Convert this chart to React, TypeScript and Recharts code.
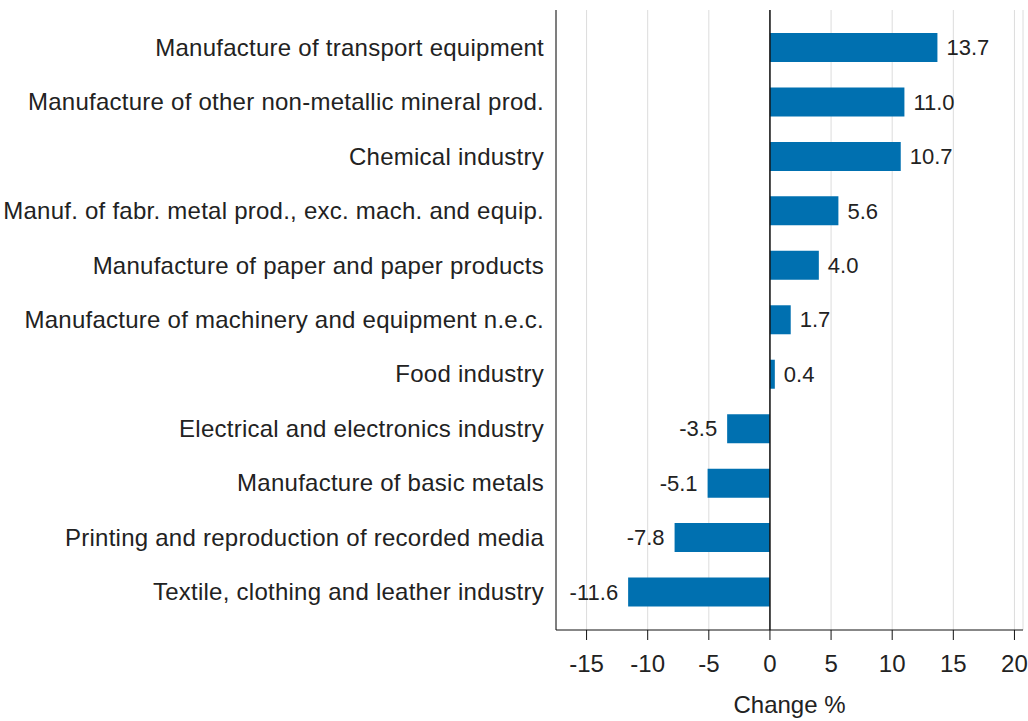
import React from 'react';
import { BarChart, Bar, XAxis, YAxis, CartesianGrid, ReferenceLine, LabelList, Label } from 'recharts';

const industries = [
  'Manufacture of transport equipment',
  'Manufacture of other non-metallic mineral prod.',
  'Chemical industry',
  'Manuf. of fabr. metal prod., exc. mach. and equip.',
  'Manufacture of paper and paper products',
  'Manufacture of machinery and equipment n.e.c.',
  'Food industry',
  'Electrical and electronics industry',
  'Manufacture of basic metals',
  'Printing and reproduction of recorded media',
  'Textile, clothing and leather industry',
];

const changes = [13.7, 11.0, 10.7, 5.6, 4.0, 1.7, 0.4, -3.5, -5.1, -7.8, -11.6];

const xTicks = [-15, -10, -5, 0, 5, 10, 15, 20];

const data = industries.map((name, i) => ({ name, value: changes[i] }));

const FONT = '"Liberation Sans", Arial, sans-serif';
const TEXT = '#222';

// value label beside the end of each bar
const ValueLabel = (props: any) => {
  const { x, y, width, height, value } = props;
  const left = Math.min(x, x + width);
  const right = Math.max(x, x + width);
  const neg = value < 0;
  return (
    <text
      x={neg ? left - 10 : right + 9}
      y={y + height / 2}
      dy="0.35em"
      textAnchor={neg ? 'end' : 'start'}
      fontSize={22}
      fontFamily={FONT}
      fill={TEXT}
    >
      {Number(value).toFixed(1)}
    </text>
  );
};

export default function App() {
  return (
    <div style={{ position: 'absolute', left: 0, top: 0, background: '#fff' }}>
      <BarChart
        width={1028}
        height={721}
        data={data}
        layout="vertical"
        margin={{ top: 10, right: 5, left: 0, bottom: 0 }}
      >
        <CartesianGrid horizontal={false} vertical={true} stroke="#dcdcdc" />
        <XAxis
          type="number"
          domain={[-17.5, 20.7]}
          ticks={xTicks}
          allowDataOverflow
          height={91}
          tickSize={10}
          tickMargin={15}
          axisLine={{ stroke: '#111' }}
          tickLine={{ stroke: '#111' }}
          tick={{ fill: TEXT, fontSize: 24, fontFamily: FONT }}
        >
          <Label
            value="Change %"
            position="insideBottom"
            offset={8}
            style={{ fill: TEXT, fontSize: 24, fontFamily: FONT }}
          />
        </XAxis>
        <YAxis
          type="category"
          dataKey="name"
          width={556}
          padding={{ top: 10, bottom: 11 }}
          tickLine={false}
          tickSize={0}
          tickMargin={12}
          interval={0}
          axisLine={{ stroke: '#111' }}
          tick={{ fill: TEXT, fontSize: 24, fontFamily: FONT, letterSpacing: 0.25 }}
        />
        <ReferenceLine x={0} stroke="#111" strokeWidth={1.5} />
        <Bar dataKey="value" fill="#0070b0" barSize={29} isAnimationActive={false}>
          <LabelList dataKey="value" content={<ValueLabel />} />
        </Bar>
      </BarChart>
    </div>
  );
}
